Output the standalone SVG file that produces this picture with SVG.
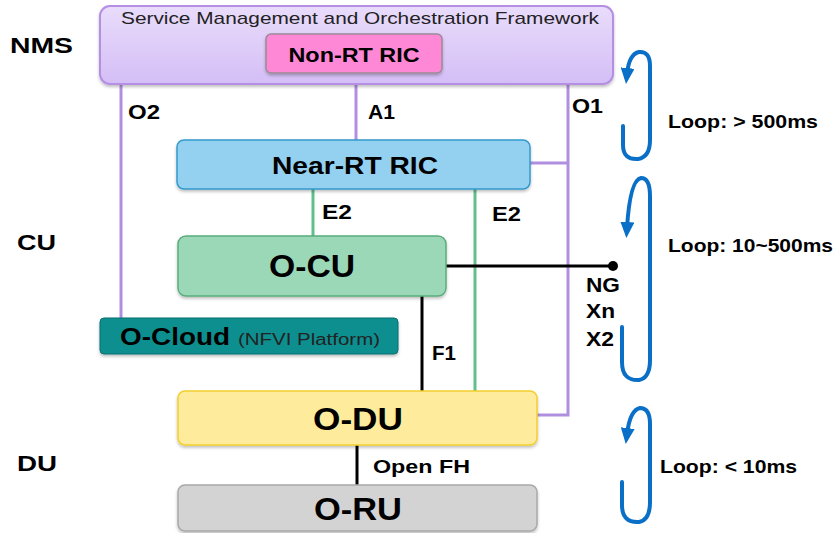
<svg xmlns="http://www.w3.org/2000/svg" width="837" height="533" viewBox="0 0 837 533">
<style>
.lbl{font-family:"Liberation Sans",Arial,sans-serif;font-weight:bold;fill:#000}
.reg{font-family:"Liberation Sans",Arial,sans-serif;fill:#222}
.purple{stroke:#b08fe0;stroke-width:3;fill:none}
.green{stroke:#5fc08c;stroke-width:3;fill:none}
.black{stroke:#000;stroke-width:3;fill:none}
.loop{stroke:#0a6fc6;stroke-width:4;fill:none;stroke-linecap:round}
</style>
<defs>
<linearGradient id="smo" x1="0" y1="0" x2="0" y2="1">
<stop offset="0" stop-color="#e9dcfb"/>
<stop offset="1" stop-color="#d4bef6"/>
</linearGradient>
<filter id="sh" x="-5%" y="-10%" width="110%" height="130%">
<feDropShadow dx="0" dy="2" stdDeviation="1.5" flood-color="#000" flood-opacity="0.25"/>
</filter>
<marker id="ah" markerWidth="16" markerHeight="14" refX="6" refY="7" orient="auto" markerUnits="userSpaceOnUse">
<path d="M0,0 L16,7 L0,14 Z" fill="#0a6fc6"/>
</marker>
</defs>

<g id="labels-left">
<text class="lbl" x="10" y="53" font-size="22" textLength="63" lengthAdjust="spacingAndGlyphs">NMS</text>
<text class="lbl" x="17" y="250" font-size="22" textLength="39" lengthAdjust="spacingAndGlyphs">CU</text>
<text class="lbl" x="17" y="471" font-size="22" textLength="40" lengthAdjust="spacingAndGlyphs">DU</text>
</g>

<g id="connectors">
<path class="purple" d="M121,84 V318"/>
<path class="purple" d="M356,84 V140"/>
<path class="purple" d="M568,84 V415 H537"/>
<path class="purple" d="M530,163 H568"/>
<path class="green" d="M313,189 V236"/>
<path class="green" d="M475,189 V392"/>
<path class="black" d="M446,266 H613"/>
<circle cx="613" cy="266" r="5" fill="#000"/>
<path class="black" d="M422,296 V392"/>
<path class="black" d="M357,445 V485"/>
<text class="lbl" x="128" y="119" font-size="20" textLength="32" lengthAdjust="spacingAndGlyphs">O2</text>
<text class="lbl" x="368" y="119" font-size="20" textLength="27" lengthAdjust="spacingAndGlyphs">A1</text>
<text class="lbl" x="572" y="113" font-size="20" textLength="31" lengthAdjust="spacingAndGlyphs">O1</text>
<text class="lbl" x="322" y="219" font-size="20" textLength="30" lengthAdjust="spacingAndGlyphs">E2</text>
<text class="lbl" x="492" y="221" font-size="20" textLength="29" lengthAdjust="spacingAndGlyphs">E2</text>
<text class="lbl" x="432" y="360" font-size="20" textLength="24" lengthAdjust="spacingAndGlyphs">F1</text>
<text class="lbl" x="586" y="292" font-size="20" textLength="34" lengthAdjust="spacingAndGlyphs">NG</text>
<text class="lbl" x="586" y="318" font-size="20" textLength="29" lengthAdjust="spacingAndGlyphs">Xn</text>
<text class="lbl" x="586" y="346" font-size="20" textLength="28" lengthAdjust="spacingAndGlyphs">X2</text>
<text class="lbl" x="373" y="473" font-size="19" textLength="97" lengthAdjust="spacingAndGlyphs">Open FH</text>
</g>

<g id="smo-node">
<rect x="100" y="6" width="513" height="78" rx="10" fill="url(#smo)" stroke="#b48fe4" stroke-width="2" filter="url(#sh)"/>
<text class="reg" x="360" y="24" font-size="17" text-anchor="middle" textLength="478" lengthAdjust="spacingAndGlyphs">Service Management and Orchestration Framework</text>
</g>

<g id="non-rt-ric">
<rect x="266" y="34" width="176" height="39" rx="5" fill="#ff88d6" stroke="#9a8a96" stroke-width="1.5" filter="url(#sh)"/>
<text class="lbl" x="354" y="62" font-size="20" text-anchor="middle" textLength="131" lengthAdjust="spacingAndGlyphs">Non-RT RIC</text>
</g>

<g id="near-rt-ric">
<rect x="177" y="140" width="353" height="49" rx="7" fill="#94d1f1" stroke="#3399cc" stroke-width="1.5" filter="url(#sh)"/>
<text class="lbl" x="355" y="174" font-size="24" text-anchor="middle" textLength="166" lengthAdjust="spacingAndGlyphs">Near-RT RIC</text>
</g>

<g id="o-cu">
<rect x="178" y="236" width="268" height="60" rx="8" fill="#9bd8b7" stroke="#5aad7b" stroke-width="1.5" filter="url(#sh)"/>
<text class="lbl" x="312" y="277" font-size="31" text-anchor="middle" textLength="86" lengthAdjust="spacingAndGlyphs">O-CU</text>
</g>

<g id="o-cloud">
<rect x="100" y="318" width="298" height="36" rx="4" fill="#078f8f" stroke="#0b6f70" stroke-width="1" filter="url(#sh)"/>
<text class="lbl" x="120" y="345" font-size="24" textLength="110" lengthAdjust="spacingAndGlyphs">O-Cloud</text>
<text class="reg" x="238" y="345" font-size="16" fill="#111" textLength="142" lengthAdjust="spacingAndGlyphs">(NFVI Platform)</text>
</g>

<g id="o-du">
<rect x="178" y="391" width="359" height="54" rx="7" fill="#feeb9b" stroke="#f2cf2e" stroke-width="1.5" filter="url(#sh)"/>
<text class="lbl" x="358" y="430" font-size="31" text-anchor="middle" textLength="90" lengthAdjust="spacingAndGlyphs">O-DU</text>
</g>

<g id="o-ru">
<rect x="178" y="485" width="359" height="46" rx="7" fill="#d3d3d3" stroke="#a9a9a9" stroke-width="1.5" filter="url(#sh)"/>
<text class="lbl" x="358" y="520" font-size="31" text-anchor="middle" textLength="88" lengthAdjust="spacingAndGlyphs">O-RU</text>
</g>

<g id="loops">
<path class="loop" d="M623,126 V145 Q623,160 638,159 Q650,157 650,140 V66 Q650,51 639,52 Q629,54 627,74" marker-end="url(#ah)"/>
<path class="loop" d="M622,327 V362 Q622,381 639,380 Q650,378 650,360 V196 Q650,178 641,178 Q630,180 627,228" marker-end="url(#ah)"/>
<path class="loop" d="M622,482 V505 Q622,523 639,522 Q650,520 650,502 V424 Q650,408 640,408 Q630,410 627,434" marker-end="url(#ah)"/>
<text class="lbl" x="668" y="128" font-size="19" textLength="150" lengthAdjust="spacingAndGlyphs">Loop: &gt; 500ms</text>
<text class="lbl" x="668" y="252" font-size="19" textLength="165" lengthAdjust="spacingAndGlyphs">Loop: 10~500ms</text>
<text class="lbl" x="660" y="473" font-size="19" textLength="137" lengthAdjust="spacingAndGlyphs">Loop: &lt; 10ms</text>
</g>
</svg>
